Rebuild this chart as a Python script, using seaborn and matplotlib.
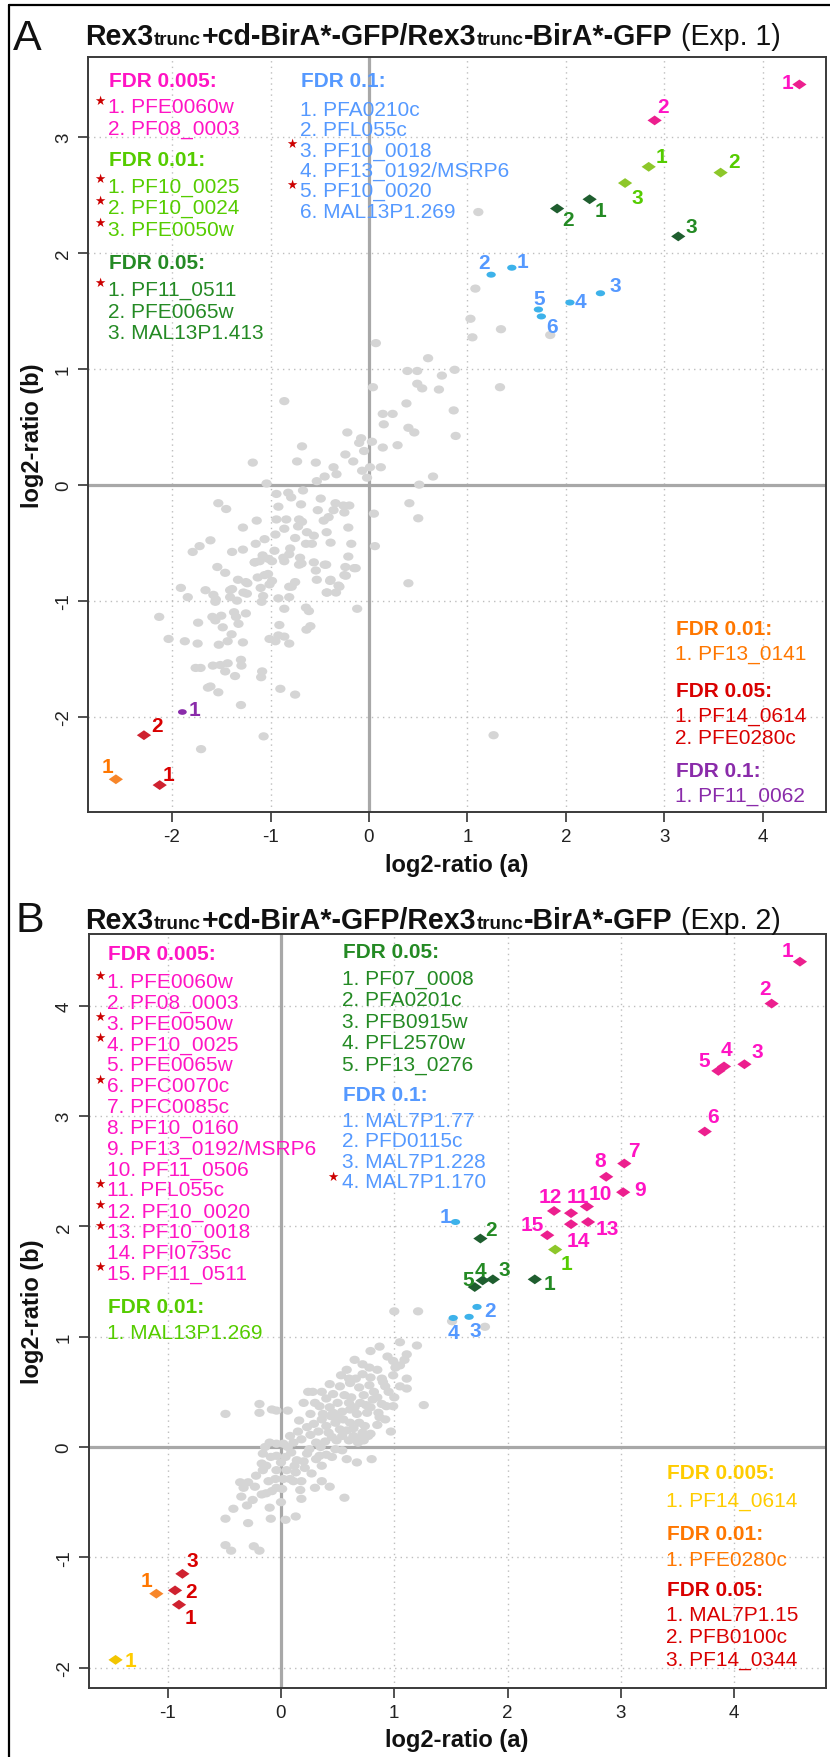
import matplotlib
matplotlib.use("Agg")
import matplotlib.pyplot as plt
import seaborn as sns
import pandas as pd
from matplotlib.path import Path
from matplotlib.transforms import Affine2D

# ---------------- data: panel A (Exp. 1) ----------------
a_p005_x = [4.37, 2.90]
a_p005_y = [3.45, 3.14]
a_p001_x = [2.84, 3.57, 2.60]
a_p001_y = [2.74, 2.69, 2.60]
a_p05_x = [2.24, 1.91, 3.14]
a_p05_y = [2.46, 2.38, 2.14]
a_p1_x = [1.45, 1.24, 2.35, 2.04, 1.72, 1.75]
a_p1_y = [1.87, 1.81, 1.65, 1.57, 1.51, 1.45]
a_n001_x = [-2.57]
a_n001_y = [-2.54]
a_n05_x = [-2.125, -2.285]
a_n05_y = [-2.59, -2.16]
a_n1_x = [-1.895]
a_n1_y = [-1.96]

gray_a = [
    (1.11, 2.35), (1.08, 1.69), (1.03, 1.43), (1.05, 1.27), (1.34, 1.34), (1.84, 1.29),
    (0.07, 1.22), (0.60, 1.09), (0.39, 0.98), (0.49, 0.98), (0.74, 0.94), (0.87, 0.99),
    (0.04, 0.84), (0.49, 0.87), (0.54, 0.83), (0.71, 0.82), (1.33, 0.84), (-0.86, 0.72),
    (0.38, 0.70), (0.14, 0.61), (0.24, 0.61), (0.15, 0.52), (0.86, 0.64), (0.40, 0.49),
    (0.46, 0.45), (-0.22, 0.45), (-0.08, 0.40), (-0.10, 0.36), (0.03, 0.37), (0.88, 0.42),
    (-0.68, 0.33), (0.14, 0.32), (0.29, 0.34), (-0.24, 0.26), (-0.05, 0.29), (-0.16, 0.20),
    (-1.18, 0.19), (-0.73, 0.20), (-0.54, 0.19), (-0.36, 0.15), (-0.45, 0.07), (-0.33, 0.09),
    (-0.07, 0.12), (0.01, 0.15), (-0.02, 0.06), (0.12, 0.15), (0.65, 0.07), (-0.53, 0.03),
    (-1.04, 0.01), (0.51, -0.00), (-0.94, -0.08), (-0.82, -0.07), (-0.79, -0.11), (-0.67, -0.05),
    (-0.69, -0.17), (-0.92, -0.19), (-0.49, -0.12), (-0.52, -0.22), (-0.34, -0.16), (-0.26, -0.18),
    (-0.20, -0.18), (-0.36, -0.22), (0.41, -0.16), (-1.53, -0.16), (-1.45, -0.21), (0.05, -0.25),
    (0.50, -0.29), (-1.14, -0.31), (-0.94, -0.30), (-0.84, -0.30), (-0.71, -0.30), (-0.68, -0.32),
    (-0.46, -0.31), (-0.41, -0.28), (-0.25, -0.24), (-1.28, -0.37), (-0.86, -0.38), (-0.95, -0.43),
    (-0.72, -0.36), (-0.63, -0.41), (-0.56, -0.44), (-0.43, -0.41), (-0.21, -0.37), (-1.61, -0.48),
    (-1.72, -0.53), (-1.79, -0.58), (-1.15, -0.51), (-1.06, -0.47), (-0.75, -0.46), (-0.64, -0.51),
    (-0.39, -0.50), (-0.58, -0.51), (-0.18, -0.51), (0.06, -0.53), (-1.39, -0.58), (-1.28, -0.56),
    (-1.08, -0.61), (-1.16, -0.67), (-0.96, -0.57), (-0.87, -0.63), (-0.81, -0.60), (-0.70, -0.63),
    (-0.80, -0.55), (-0.21, -0.62), (-1.54, -0.71), (-1.46, -0.76), (-1.11, -0.66), (-1.02, -0.64),
    (-0.71, -0.69), (-0.56, -0.67), (-0.45, -0.69), (-0.54, -0.74), (-0.24, -0.71), (-0.15, -0.72),
    (-0.25, -0.78), (0.40, -0.85), (-1.33, -0.82), (-1.25, -0.84), (-1.13, -0.80), (-1.06, -0.78),
    (-1.01, -0.86), (-1.10, -0.89), (-1.24, -0.94), (-0.75, -0.84), (-0.81, -0.88), (-0.53, -0.82),
    (-0.39, -0.82), (-0.30, -0.88), (-0.43, -0.93), (-1.91, -0.89), (-1.84, -0.97), (-1.66, -0.91),
    (-1.58, -0.95), (-1.56, -1.01), (-1.39, -0.90), (-1.41, -0.97), (-1.34, -1.00), (-1.09, -1.01),
    (-0.92, -0.98), (-0.81, -0.97), (-0.86, -1.07), (-0.64, -1.06), (-0.61, -1.09), (-0.12, -1.07),
    (-2.13, -1.14), (-1.59, -1.14), (-1.50, -1.13), (-1.37, -1.10), (-1.35, -1.14), (-1.25, -1.11),
    (-1.735, -1.19), (-1.56, -1.17), (-1.485, -1.23), (-1.395, -1.29), (-1.325, -1.20), (-0.91, -1.21),
    (-0.635, -1.25), (-0.595, -1.22), (-2.035, -1.33), (-1.87, -1.35), (-1.74, -1.37), (-1.525, -1.38),
    (-1.435, -1.35), (-1.28, -1.36), (-1.01, -1.33), (-0.95, -1.35), (-0.92, -1.30), (-0.86, -1.31),
    (-0.81, -1.37), (-1.76, -1.58), (-1.71, -1.58), (-1.585, -1.56), (-1.51, -1.555), (-1.435, -1.54),
    (-1.30, -1.51), (-1.295, -1.56), (-1.46, -1.61), (-1.36, -1.65), (-1.085, -1.61), (-1.095, -1.66),
    (-1.635, -1.75), (-1.61, -1.74), (-1.53, -1.79), (-0.90, -1.76), (-0.75, -1.81), (-1.30, -1.90),
    (-1.07, -2.17), (-1.705, -2.28), (1.265, -2.16),
    (-1.16, -0.67), (-0.985, -0.66), (-0.86, -0.66), (-0.685, -0.68), (-0.435, -0.69), (-0.135, -0.72),
    (-0.235, -0.785), (-0.395, -0.83), (-0.31, -0.87), (-0.335, -0.93), (-0.425, -0.93), (-0.785, -0.88),
    (-1.075, -0.96), (-0.985, -0.83), (-1.235, -0.85), (-1.275, -0.93), (-1.41, -0.91), (-1.555, -0.99),
    (-1.025, -0.77),
]

# ---------------- data: panel B (Exp. 2) ----------------
b_p005_x = [4.58, 4.33, 4.09, 3.91, 3.86, 3.74, 3.03, 2.87, 3.02, 2.70, 2.56, 2.41, 2.71, 2.56, 2.35]
b_p005_y = [4.40, 4.02, 3.47, 3.45, 3.41, 2.86, 2.57, 2.45, 2.31, 2.18, 2.12, 2.14, 2.04, 2.02, 1.92]
b_p001_x = [2.42]
b_p001_y = [1.79]
b_p05_x = [2.24, 1.76, 1.87, 1.78, 1.71]
b_p05_y = [1.52, 1.89, 1.52, 1.51, 1.45]
b_p1_x = [1.54, 1.73, 1.66, 1.52]
b_p1_y = [2.04, 1.27, 1.18, 1.17]
b_n0005_x = [-1.46]
b_n0005_y = [-1.93]
b_n001_x = [-1.10]
b_n001_y = [-1.33]
b_n05_x = [-0.90, -0.935, -0.87]
b_n05_y = [-1.43, -1.30, -1.15]

gray_b = [
    (1.00, 1.23), (1.21, 1.23), (1.51, 1.14), (1.20, 0.92), (0.87, 0.91), (0.79, 0.87),
    (0.65, 0.79), (1.11, 0.84), (1.09, 0.79), (1.05, 0.74), (0.99, 0.78), (1.01, 0.72),
    (0.78, 0.72), (0.79, 0.63), (0.53, 0.65), (0.99, 0.65), (0.89, 0.62), (1.11, 0.62),
    (0.43, 0.57), (0.61, 0.58), (0.69, 0.54), (0.78, 0.56), (0.90, 0.59), (0.92, 0.55),
    (1.05, 0.55), (1.11, 0.53), (0.24, 0.50), (0.28, 0.50), (0.36, 0.50), (0.46, 0.48),
    (0.56, 0.47), (0.62, 0.45), (0.73, 0.47), (0.82, 0.50), (0.81, 0.43), (0.89, 0.39),
    (0.93, 0.37), (0.99, 0.37), (1.26, 0.38), (-0.19, 0.39), (-0.49, 0.30), (-0.19, 0.31),
    (-0.08, 0.34), (-0.04, 0.33), (0.34, 0.37), (0.43, 0.36), (0.37, 0.30), (0.46, 0.31),
    (0.54, 0.32), (0.61, 0.34), (0.67, 0.30), (0.76, 0.31), (0.79, 0.36), (0.86, 0.31),
    (0.87, 0.27), (0.16, 0.24), (0.29, 0.21), (0.23, 0.18), (0.36, 0.25), (0.40, 0.19),
    (0.48, 0.22), (0.55, 0.25), (0.61, 0.22), (0.64, 0.17), (0.69, 0.22), (0.74, 0.19),
    (0.79, 0.12), (0.70, 0.08), (0.97, 0.14), (0.08, 0.10), (0.15, 0.14), (0.18, 0.07),
    (0.26, 0.11), (0.31, 0.04), (0.39, 0.05), (0.45, 0.09), (0.49, 0.06), (0.54, 0.10),
    (0.58, 0.15), (0.64, 0.10), (0.68, 0.04), (0.73, 0.06), (0.77, 0.10), (-0.10, 0.04),
    (-0.14, -0.00), (-0.04, 0.03), (0.02, 0.03), (0.06, -0.00), (0.11, 0.04), (0.58, -0.11),
    (0.67, -0.14), (0.80, -0.11), (-0.16, -0.06), (-0.09, -0.09), (-0.13, -0.17), (-0.04, -0.08),
    (0.04, -0.09), (0.09, -0.05), (0.14, -0.12), (0.20, -0.13), (0.23, -0.06), (0.31, -0.11),
    (0.34, -0.08), (0.40, -0.07), (0.48, -0.02), (0.54, -0.03), (0.45, -0.09), (-0.17, -0.15),
    (-0.16, -0.21), (0.36, -0.17), (-0.04, -0.21), (0.05, -0.21), (0.08, -0.29), (0.13, -0.23),
    (0.21, -0.19), (-0.36, -0.32), (-0.29, -0.32), (-0.23, -0.36), (-0.33, -0.37), (-0.17, -0.43),
    (-0.13, -0.42), (-0.08, -0.40), (-0.04, -0.37), (0.01, -0.38), (-0.11, -0.31), (-0.05, -0.29),
    (0.02, -0.29), (0.11, -0.31), (0.18, -0.31), (0.36, -0.31), (0.43, -0.36), (0.17, -0.39),
    (0.18, -0.47), (0.56, -0.46), (-0.35, -0.45), (-0.30, -0.53), (-0.42, -0.56), (-0.49, -0.65),
    (-0.29, -0.69), (-0.09, -0.65), (0.04, -0.66), (0.13, -0.63), (-0.49, -0.89), (-0.44, -0.94),
    (-0.24, -0.90), (-0.19, -0.94), (0.06, 0.33), (1.80, 1.09),
    (0.30, 0.40), (0.50, 0.40), (0.60, 0.40), (0.70, 0.40), (0.40, 0.44), (0.52, 0.55),
    (0.66, 0.62), (0.72, 0.66), (0.58, 0.70), (0.85, 0.70), (0.95, 0.50), (0.85, 0.45),
    (0.75, 0.38), (0.65, 0.36), (0.50, 0.27), (0.44, 0.28), (0.33, 0.14), (0.42, 0.13),
    (0.52, 0.16), (0.60, 0.06), (0.72, 0.13), (0.85, 0.20), (0.92, 0.25), (0.25, -0.02),
    (0.35, 0.00), (0.12, -0.17), (0.27, -0.24), (-0.00, -0.14), (-0.22, -0.26), (-0.25, -0.48),
    (0.30, -0.37), (0.00, -0.50), (-0.10, -0.55), (0.26, 0.30), (0.20, 0.40), (1.00, 0.45),
    (1.05, 0.95), (0.94, 0.82), (0.72, 0.75), (0.60, 0.62),
]

# ---------------- texts ----------------
a_legend_left = [
    ("FDR 0.005:", ["1. PFE0060w", "2. PF08_0003"]),
    ("FDR 0.01:", ["1. PF10_0025", "2. PF10_0024", "3. PFE0050w"]),
    ("FDR 0.05:", ["1. PF11_0511", "2. PFE0065w", "3. MAL13P1.413"]),
]
a_legend_mid = ("FDR 0.1:", ["1. PFA0210c", "2. PFL055c", "3. PF10_0018",
                             "4. PF13_0192/MSRP6", "5. PF10_0020", "6. MAL13P1.269"])
a_legend_right = [
    ("FDR 0.01:", ["1. PF13_0141"]),
    ("FDR 0.05:", ["1. PF14_0614", "2. PFE0280c"]),
    ("FDR 0.1:", ["1. PF11_0062"]),
]
b_legend_left = [
    ("FDR 0.005:", ["1. PFE0060w", "2. PF08_0003", "3. PFE0050w", "4. PF10_0025", "5. PFE0065w",
                    "6. PFC0070c", "7. PFC0085c", "8. PF10_0160", "9. PF13_0192/MSRP6",
                    "10. PF11_0506", "11. PFL055c", "12. PF10_0020", "13. PF10_0018",
                    "14. PFI0735c", "15. PF11_0511"]),
    ("FDR 0.01:", ["1. MAL13P1.269"]),
]
b_legend_mid = [
    ("FDR 0.05:", ["1. PF07_0008", "2. PFA0201c", "3. PFB0915w", "4. PFL2570w", "5. PF13_0276"]),
    ("FDR 0.1:", ["1. MAL7P1.77", "2. PFD0115c", "3. MAL7P1.228", "4. MAL7P1.170"]),
]
b_legend_right = [
    ("FDR 0.005:", ["1. PF14_0614"]),
    ("FDR 0.01:", ["1. PFE0280c"]),
    ("FDR 0.05:", ["1. MAL7P1.15", "2. PFB0100c", "3. PF14_0344"]),
]
xlabel = "log2-ratio (a)"
ylabel = "log2-ratio (b)"
a_xticks = [-2, -1, 0, 1, 2, 3, 4]
a_yticks = [-2, -1, 0, 1, 2, 3]
b_xticks = [-1, 0, 1, 2, 3, 4]
b_yticks = [-2, -1, 0, 1, 2, 3, 4]

# ---------------- style ----------------
PINK_T, PINK_M = "#FF14C4", "#EC1F8E"
LG_T, LG_M = "#55CC00", "#8DC72A"
DG_T, DG_M = "#248A24", "#1F5E2F"
BL_T, BL_M = "#5599FF", "#3DB2EA"
OR_T, OR_M = "#FF7700", "#F7862A"
RD_T, RD_M = "#D90000", "#CF2230"
PU_T, PU_M = "#8A2BAA", "#8A2BAA"
YE_T, YE_M = "#FFCC00", "#F2C500"
STAR = "#CC0000"
GRAY = "#D5D5D5"

sns.set_theme(style="ticks")
plt.rcParams["font.family"] = ["Liberation Sans", "DejaVu Sans"]
plt.rcParams["axes.unicode_minus"] = False

W, H = 830, 1758
fig = plt.figure(figsize=(W / 100, H / 100), dpi=100)


def rect(l, t, r, b):
    return [l / W, 1 - b / H, (r - l) / W, (b - t) / H]


axA = fig.add_axes(rect(88, 58.3, 826, 813))
axB = fig.add_axes(rect(88.7, 935, 826, 1689))
ov = fig.add_axes([0, 0, 1, 1], zorder=10)
ov.set_xlim(0, W)
ov.set_ylim(H, 0)
ov.axis("off")
ov.patch.set_alpha(0)

diamond = Path([(-1.45, 0), (0, 1), (1.45, 0), (0, -1), (-1.45, 0)],
               [Path.MOVETO, Path.LINETO, Path.LINETO, Path.LINETO, Path.CLOSEPOLY])
ell = Path.unit_circle().transformed(Affine2D().scale(1.25, 1.0))
ell_small = Path.unit_circle().transformed(Affine2D().scale(1.55, 1.0))


def setup(ax, xlim, ylim, xt, yt):
    ax.set_xlim(*xlim)
    ax.set_ylim(*ylim)
    ax.set_xticks(xt)
    ax.set_yticks(yt)
    ax.set_xticklabels([str(v) for v in xt])
    ax.set_yticklabels([str(v) for v in yt])
    ax.grid(True, color="#BEBEBE", linestyle=(0, (1, 3)), linewidth=1.0)
    ax.set_axisbelow(True)
    ax.axhline(0, color="#A8A8A8", lw=2.3, zorder=1.5)
    ax.axvline(0, color="#A8A8A8", lw=2.3, zorder=1.5)
    for s in ax.spines.values():
        s.set_color("#3A3A3A")
        s.set_linewidth(1.4)
        s.set_visible(True)
    ax.tick_params(axis="both", direction="out", length=7.5, width=1.2, color="#333333",
                   labelsize=13.5, labelcolor="#222222", pad=4, bottom=True, left=True)
    ax.tick_params(axis="y", labelrotation=90)
    for lab in ax.get_yticklabels():
        lab.set_va("center")


def draw_group(ax, xs, ys, mcolor, tcolor, offs, marker, size, labels=None):
    df = pd.DataFrame({"x": xs, "y": ys})
    sns.scatterplot(data=df, x="x", y="y", ax=ax, color=mcolor, s=size, marker=marker,
                    linewidth=0, edgecolor="none", zorder=4, legend=False)
    if labels is None:
        labels = [str(i + 1) for i in range(len(xs))]
    em = 15 * 100 / 72
    for x, y, lab, (dx, dy) in zip(xs, ys, labels, offs):
        ax.annotate(lab, (x, y), xytext=(dx, dy - 0.358 * em), textcoords="offset pixels",
                    ha="center", va="baseline", fontsize=15, fontweight="bold",
                    color=tcolor, zorder=6)


# ---------------- panel A ----------------
setup(axA, (-2.853, 4.640), (-2.822, 3.684), a_xticks, a_yticks)
ga = pd.DataFrame(gray_a, columns=["x", "y"])
sns.scatterplot(data=ga, x="x", y="y", ax=axA, color=GRAY, s=55, marker=ell,
                linewidth=0, edgecolor="none", zorder=3, legend=False)
draw_group(axA, a_p005_x, a_p005_y, PINK_M, PINK_T, [(-12, 4), (8, 16)], diamond, 105)
draw_group(axA, a_p001_x, a_p001_y, LG_M, LG_T, [(13, 12), (13, 13), (12, -12)], diamond, 105)
draw_group(axA, a_p05_x, a_p05_y, DG_M, DG_T, [(11, -9), (11, -9), (13, 12)], diamond, 105)
draw_group(axA, a_p1_x, a_p1_y, BL_M, BL_T,
           [(11, 8), (-7, 14), (15, 10), (11, 3), (1, 13), (11, -8)], ell_small, 45)
draw_group(axA, a_n001_x, a_n001_y, OR_M, OR_T, [(-8, 15)], diamond, 105)
draw_group(axA, a_n05_x, a_n05_y, RD_M, RD_T, [(9, 13), (13, 12)], diamond, 105)
draw_group(axA, a_n1_x, a_n1_y, PU_M, PU_T, [(12, 4)], ell_small, 40)

# ---------------- panel B ----------------
setup(axB, (-1.697, 4.810), (-2.185, 4.651), b_xticks, b_yticks)
gb = pd.DataFrame(gray_b, columns=["x", "y"])
sns.scatterplot(data=gb, x="x", y="y", ax=axB, color=GRAY, s=55, marker=ell,
                linewidth=0, edgecolor="none", zorder=3, legend=False)
draw_group(axB, b_p005_x, b_p005_y, PINK_M, PINK_T,
           [(-12, 13), (-7, 17), (13, 15), (2, 19), (-14, 12), (8, 17), (10, 15), (-6, 18),
            (17, 5), (13, 15), (7, 19), (-4, 16), (19, -5), (7, -14), (-15, 13)], diamond, 105)
draw_group(axB, b_p001_x, b_p001_y, LG_M, LG_T, [(11, -12)], diamond, 105)
draw_group(axB, b_p05_x, b_p05_y, DG_M, DG_T,
           [(15, -2), (11, 11), (11, 12), (-2, 12), (-7, 10)], diamond, 105)
draw_group(axB, b_p1_x, b_p1_y, BL_M, BL_T, [(-10, 7), (13, -2), (6, -12), (0, -13)], ell_small, 45)
draw_group(axB, b_n0005_x, b_n0005_y, YE_M, YE_T, [(15, 1)], diamond, 105)
draw_group(axB, b_n001_x, b_n001_y, OR_M, OR_T, [(-10, 15)], diamond, 105)
draw_group(axB, b_n05_x, b_n05_y, RD_M, RD_T, [(11, -11), (16, 1), (10, 15)], diamond, 105)

# seaborn sets "x"/"y" axis labels; the real labels are drawn below
for ax in (axA, axB):
    ax.set_xlabel("")
    ax.set_ylabel("")


# ---------------- overlay texts ----------------
def line_text(x, yc, s, color, size=15, weight="normal"):
    em = size * 100 / 72
    ov.text(x, yc + 0.358 * em, s, fontsize=size, fontweight=weight, color=color,
            ha="left", va="baseline")


def star(x, y):
    ov.text(x, y, "\u2605", fontsize=9, color=STAR, ha="center", va="center",
            family=["DejaVu Sans"])


def block(x, yh, hdr, lines, ylines, color):
    line_text(x, yh, hdr, color, weight="bold")
    for s, yy in zip(lines, ylines):
        line_text(x - 1, yy, s, color)


# panel A, left column
a_cols = [PINK_T, LG_T, DG_T]
a_hy = [79.3, 158.3, 261.7]
for (hdr, lines), c, yh in zip(a_legend_left, a_cols, a_hy):
    block(109.3, yh, hdr, lines, [yh + 26.5 + 21.9 * i for i in range(len(lines))], c)
for yy in [101, 179.8, 201.7, 223.6, 283.7]:
    star(99.5, yy)
# panel A, blue column
block(300.7, 79.3, a_legend_mid[0], a_legend_mid[1],
      [108.3, 128.6, 149.0, 169.3, 189.7, 210.9], BL_T)
for yy in [144.5, 185.2]:
    star(291.7, yy)
# panel A, bottom right
for (hdr, lines), c, yh, yl in zip(a_legend_right, [OR_T, RD_T, PU_T], [627.7, 689.3, 769.3],
                                   [[652.7], [714.3, 736.7], [794.3]]):
    block(675.8, yh, hdr, lines, yl, c)

# panel B, left column
block(108.3, 952.7, b_legend_left[0][0], b_legend_left[0][1],
      [980.7 + 20.83 * i for i in range(15)], PINK_T)
for i in [0, 2, 3, 5, 10, 11, 12, 14]:
    star(100, 980.7 + 20.83 * i - 4.5)
block(108.3, 1305.7, b_legend_left[1][0], b_legend_left[1][1], [1331.7], LG_T)
# panel B, middle column
block(343.3, 950.7, b_legend_mid[0][0], b_legend_mid[0][1],
      [977.3, 998.8, 1020.3, 1041.8, 1063.3], DG_T)
block(343.3, 1093.3, b_legend_mid[1][0], b_legend_mid[1][1],
      [1119.3, 1139.8, 1160.3, 1180.8], BL_T)
star(332.7, 1177.3)
# panel B, bottom right
for (hdr, lines), c, yh, yl in zip(b_legend_right, [YE_T, OR_T, RD_T], [1471.7, 1532.7, 1588.3],
                                   [[1499.3], [1558.3], [1613.3, 1635.8, 1658.3]]):
    block(666.9, yh, hdr, lines, yl, c)

# axis labels
for yc in [866, 1741]:
    ov.text(457, yc, xlabel, fontsize=17, fontweight="bold", ha="center", va="center",
            color="#111111")
for yc in [435.5, 1312]:
    ov.text(33, yc, ylabel, fontsize=17, fontweight="bold", ha="center", va="center",
            rotation=90, color="#111111")

# panel letters
ov.text(13, 50, "A", fontsize=31, ha="left", va="baseline", color="#111111")
ov.text(15, 932, "B", fontsize=31, ha="left", va="baseline", color="#111111")

# rich titles
renderer = fig.canvas.get_renderer()


def rich_line(x0, yb, pieces, base, target_w):
    def layout(k):
        arts, x = [], x0
        for txt, rel, wt, gap in pieces:
            x += gap * base * k * 100 / 72
            t = ov.text(x, yb, txt, fontsize=base * rel * k, fontweight=wt, ha="left",
                        va="baseline", color="#111111")
            x += t.get_window_extent(renderer).width
            arts.append(t)
        return arts, x - x0
    arts, w = layout(1.0)
    for a in arts:
        a.remove()
    layout(target_w / w)


for exp, yb in [("(Exp. 1)", 45), ("(Exp. 2)", 929)]:
    pieces = [("Rex3", 1, "bold", 0), ("trunc", 0.66, "bold", 0.02),
              ("+cd-BirA*-GFP/Rex3", 1, "bold", 0.02), ("trunc", 0.66, "bold", 0.02),
              ("-BirA*-GFP", 1, "bold", 0.02), (exp, 1, "normal", 0.28)]
    rich_line(85, yb, pieces, 18, 697)

# figure frame
ov.plot([9, 9], [6, H], color="black", lw=1.6, clip_on=False)
ov.plot([9, W], [6, 6], color="black", lw=1.6, clip_on=False)

fig.savefig("out.png", dpi=100)
